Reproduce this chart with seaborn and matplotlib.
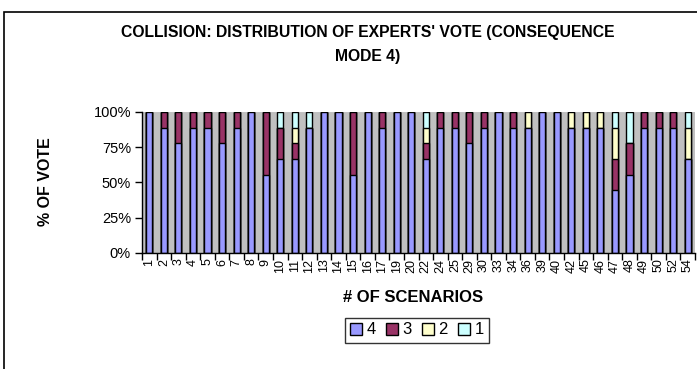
import matplotlib
matplotlib.use("Agg")
import matplotlib.pyplot as plt
from matplotlib.patches import Patch, Rectangle
from matplotlib.ticker import FixedLocator, PercentFormatter
import numpy as np
import pandas as pd
import seaborn as sns

# Scenario numbers along the category axis
scenarios = ["1", "2", "3", "4", "5", "6", "7", "8", "9", "10", "11", "12", "13",
             "14", "15", "16", "17", "19", "20", "22", "24", "25", "29", "30",
             "33", "34", "36", "39", "40", "42", "45", "46", "47", "48", "49",
             "50", "52", "54"]

# Number of experts voting each consequence rating per scenario
votes_4 = [9, 8, 7, 8, 8, 7, 8, 9, 5, 6, 6, 8, 9, 9, 5, 9, 8, 9, 9, 6, 8, 8, 7, 8,
           9, 8, 8, 9, 9, 8, 8, 8, 4, 5, 8, 8, 8, 6]
votes_3 = [0, 1, 2, 1, 1, 2, 1, 0, 4, 2, 1, 0, 0, 0, 4, 0, 1, 0, 0, 1, 1, 1, 2, 1,
           0, 1, 0, 0, 0, 0, 0, 0, 2, 2, 1, 1, 1, 0]
votes_2 = [0, 0, 0, 0, 0, 0, 0, 0, 0, 0, 1, 0, 0, 0, 0, 0, 0, 0, 0, 1, 0, 0, 0, 0,
           0, 0, 1, 0, 0, 1, 1, 1, 2, 0, 0, 0, 0, 2]
votes_1 = [0, 0, 0, 0, 0, 0, 0, 0, 0, 1, 1, 1, 0, 0, 0, 0, 0, 0, 0, 1, 0, 0, 0, 0,
           0, 0, 0, 0, 0, 0, 0, 0, 1, 2, 0, 0, 0, 1]

ratings = ["4", "3", "2", "1"]
colors = {"4": "#9999FF", "3": "#993366", "2": "#FFFFCC", "1": "#CCFFFF"}

df = pd.DataFrame({"scenario": scenarios, "4": votes_4, "3": votes_3,
                   "2": votes_2, "1": votes_1})
total = df[ratings].sum(axis=1)
for r in ratings:
    df[r] = df[r] / total * 100
# cumulative tops of each stacked segment (4 at the bottom)
cum = df[ratings].cumsum(axis=1)

sns.set_theme(style="white")
plt.rcParams["font.family"] = ["Liberation Sans", "DejaVu Sans"]
plt.rcParams.update({"text.color": "black", "xtick.color": "black",
                     "ytick.color": "black", "axes.labelcolor": "black"})

W, H = 697, 369
fig = plt.figure(figsize=(W / 100, H / 100), dpi=100)
ax = fig.add_axes([142 / W, 1 - 253 / H, (695 - 142) / W, (253 - 112) / H])
ax.set_facecolor("#C0C0C0")

# draw from the tallest cumulative segment down so each layer shows its share
for r in reversed(ratings):
    plot_df = pd.DataFrame({"scenario": scenarios, "top": cum[r].values})
    sns.barplot(data=plot_df, x="scenario", y="top", order=scenarios,
                color=colors[r], saturation=1, width=0.42,
                edgecolor="black", linewidth=1.0, ax=ax, errorbar=None)

ax.set_xlim(-0.5, len(scenarios) - 0.5)
ax.set_ylim(0, 100)
ax.yaxis.set_major_locator(FixedLocator([0, 25, 50, 75, 100]))
ax.yaxis.set_major_formatter(PercentFormatter(decimals=0))
ax.tick_params(axis="y", which="major", length=5, width=1, color="black",
               direction="out", labelsize=10.5, pad=3, left=True)
ax.set_xticks(range(len(scenarios)))
ax.set_xticklabels(scenarios, rotation=90, fontsize=9)
ax.set_xticks(np.arange(-0.5, len(scenarios), 1), minor=True)
ax.tick_params(axis="x", which="major", length=0, pad=4)
ax.tick_params(axis="x", which="minor", length=5, width=1, color="black",
               direction="out", bottom=True)
ax.set_xlabel("")
ax.set_ylabel("")
for side in ["top", "right"]:
    ax.spines[side].set_visible(False)
for side in ["left", "bottom"]:
    ax.spines[side].set_color("black")
    ax.spines[side].set_linewidth(1)

fig.text(368 / W, 1 - 33 / H, "COLLISION: DISTRIBUTION OF EXPERTS' VOTE (CONSEQUENCE",
         ha="center", va="center", fontsize=11.3, fontweight="bold")
fig.text(368 / W, 1 - 57 / H, "MODE 4)", ha="center", va="center",
         fontsize=11.3, fontweight="bold")
fig.text(45 / W, 1 - 182 / H, "% OF VOTE", rotation=90, ha="center", va="center",
         fontsize=11.5, fontweight="bold")
fig.text(413 / W, 1 - 297 / H, "# OF SCENARIOS", ha="center", va="center",
         fontsize=12, fontweight="bold")

handles = [Patch(facecolor=colors[r], edgecolor="black", linewidth=1) for r in ratings]
leg = fig.legend(handles, ratings, loc="center", bbox_to_anchor=(417 / W, 1 - 330 / H),
                 ncol=4, frameon=True, fontsize=12, handlelength=0.7,
                 handleheight=0.7, handletextpad=0.3, columnspacing=0.6,
                 borderpad=0.3, fancybox=False)
leg.get_frame().set_edgecolor("black")
leg.get_frame().set_linewidth(1)

# chart-area frame
fig.patches.append(Rectangle((4 / W, -0.01), 1.0, 1 - 12 / H + 0.01,
                             transform=fig.transFigure, fill=False,
                             edgecolor="black", linewidth=1.2))

fig.savefig("out.png", dpi=100)
